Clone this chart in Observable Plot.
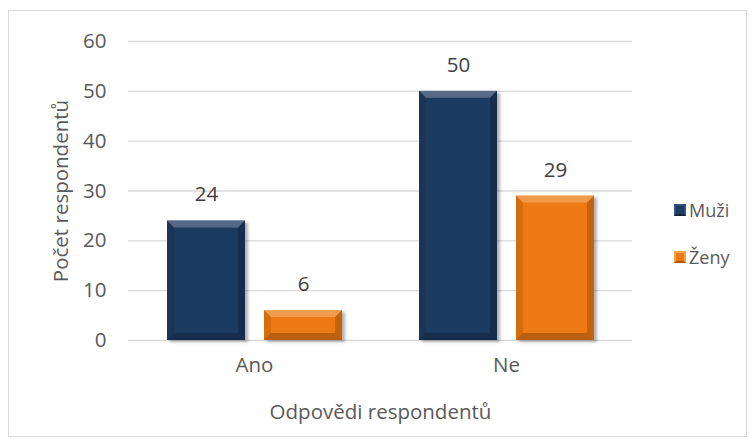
<!DOCTYPE html>
<html>
<head>
<meta charset="utf-8">
<script src="https://cdn.jsdelivr.net/npm/d3@7"></script>
<script src="https://cdn.jsdelivr.net/npm/@observablehq/plot@0.6"></script>
<style>
  body { margin: 0; background: #fff; }
  #wrap { position: relative; width: 756px; height: 447px; font-family: "Open Sans", sans-serif; color: #595959; }
  #frame { position: absolute; left: 8px; top: 10px; width: 739px; height: 427px; border: 1px solid #d9d9d9; box-sizing: border-box; pointer-events: none; }
  #chart { position: absolute; left: 0; top: 0; }
  #chart svg text { font-size: 20.5px; }
  .leg { position: absolute; left: 674px; font-size: 18px; line-height: 20px; display: flex; align-items: center; }
  .sw { width: 12px; height: 12px; margin-right: 3px; box-sizing: border-box; }
</style>
</head>
<body>
<div id="wrap">
  <div id="chart"></div>
  <div id="frame"></div>
  <div class="leg" style="top:200px"><div class="sw" style="background:#1f3a60;border:2px solid #2d5080;border-bottom-color:#13243d"></div>Muži</div>
  <div class="leg" style="top:247px"><div class="sw" style="background:#ee7a12;border:2px solid #f7a34a;border-bottom-color:#b85607"></div>Ženy</div>
</div>
<script>
const answers = ["Ano", "Ne"];
const genders = ["Muži", "Ženy"];
const muzi = [24, 50];
const zeny = [6, 29];
const yTicks = [0, 10, 20, 30, 40, 50, 60];
const colors = ["#1f3a60", "#ee7a12"];

const data = [];
answers.forEach((a, i) => {
  data.push({answer: a, gender: genders[0], value: muzi[i]});
  data.push({answer: a, gender: genders[1], value: zeny[i]});
});

const chart = Plot.plot({
  width: 756,
  height: 447,
  marginLeft: 127,
  marginRight: 124,
  marginTop: 41,
  marginBottom: 107,
  style: {fontFamily: "Open Sans, sans-serif", fontSize: "20px", color: "#595959", background: "transparent"},
  fx: {domain: answers, padding: 0, axis: "bottom", tickSize: 0, tickPadding: 17,
       label: "Odpovědi respondentů", labelAnchor: "center", labelOffset: 78},
  x: {domain: genders, axis: null, paddingInner: 0.2, paddingOuter: 0.39},
  y: {domain: [0, 60], ticks: yTicks, tickSize: 0, tickPadding: 22,
      label: "Počet respondentů", labelAnchor: "center", labelOffset: 75},
  color: {domain: genders, range: colors},
  marks: [
    Plot.ruleY(yTicks, {stroke: "#d9d9d9", strokeWidth: 1.4}),
    Plot.barY(data, {fx: "answer", x: "gender", y: "value", fill: "gender"}),
    Plot.text(data, {fx: "answer", x: "gender", y: "value", text: d => String(d.value), dy: -26, fontSize: 20, fill: "#404040"})
  ]
});

document.getElementById("chart").appendChild(chart);

// remove label arrows if the Plot version adds them
chart.querySelectorAll("text").forEach(t => {
  if (/[↑↓←→]/.test(t.textContent)) t.textContent = t.textContent.replace(/\s*[↑↓←→]\s*/g, "");
});

// drop shadow + bevel for bars (positions read from the rendered rects)
const svgNS = "http://www.w3.org/2000/svg";
const defs = document.createElementNS(svgNS, "defs");
defs.innerHTML = '<filter id="sh" x="-10%" y="-10%" width="130%" height="130%"><feDropShadow dx="3" dy="2" stdDeviation="1.8" flood-color="#000" flood-opacity="0.3"/></filter>';
chart.insertBefore(defs, chart.firstChild);

chart.querySelectorAll('g[aria-label="bar"] rect').forEach(r => {
  const x = +r.getAttribute("x"), y = +r.getAttribute("y");
  const w = +r.getAttribute("width"), h = +r.getAttribute("height");
  const g = document.createElementNS(svgNS, "g");
  r.parentNode.insertBefore(g, r);
  g.appendChild(r);
  g.setAttribute("filter", "url(#sh)");
  const b = Math.min(7, h / 2);
  const polys = [
    [[x, y], [x + w, y], [x + w - b, y + b], [x + b, y + b], "#fff", 0.25],
    [[x, y + h], [x + w, y + h], [x + w - b, y + h - b], [x + b, y + h - b], "#000", 0.22],
    [[x, y], [x + b, y + b], [x + b, y + h - b], [x, y + h], "#000", 0.1],
    [[x + w, y], [x + w - b, y + b], [x + w - b, y + h - b], [x + w, y + h], "#000", 0.18]
  ];
  polys.forEach(p => {
    const el = document.createElementNS(svgNS, "polygon");
    el.setAttribute("points", p.slice(0, 4).map(q => q.join(",")).join(" "));
    el.setAttribute("fill", p[4]);
    el.setAttribute("fill-opacity", p[5]);
    g.appendChild(el);
  });
});
</script>
</body>
</html>
